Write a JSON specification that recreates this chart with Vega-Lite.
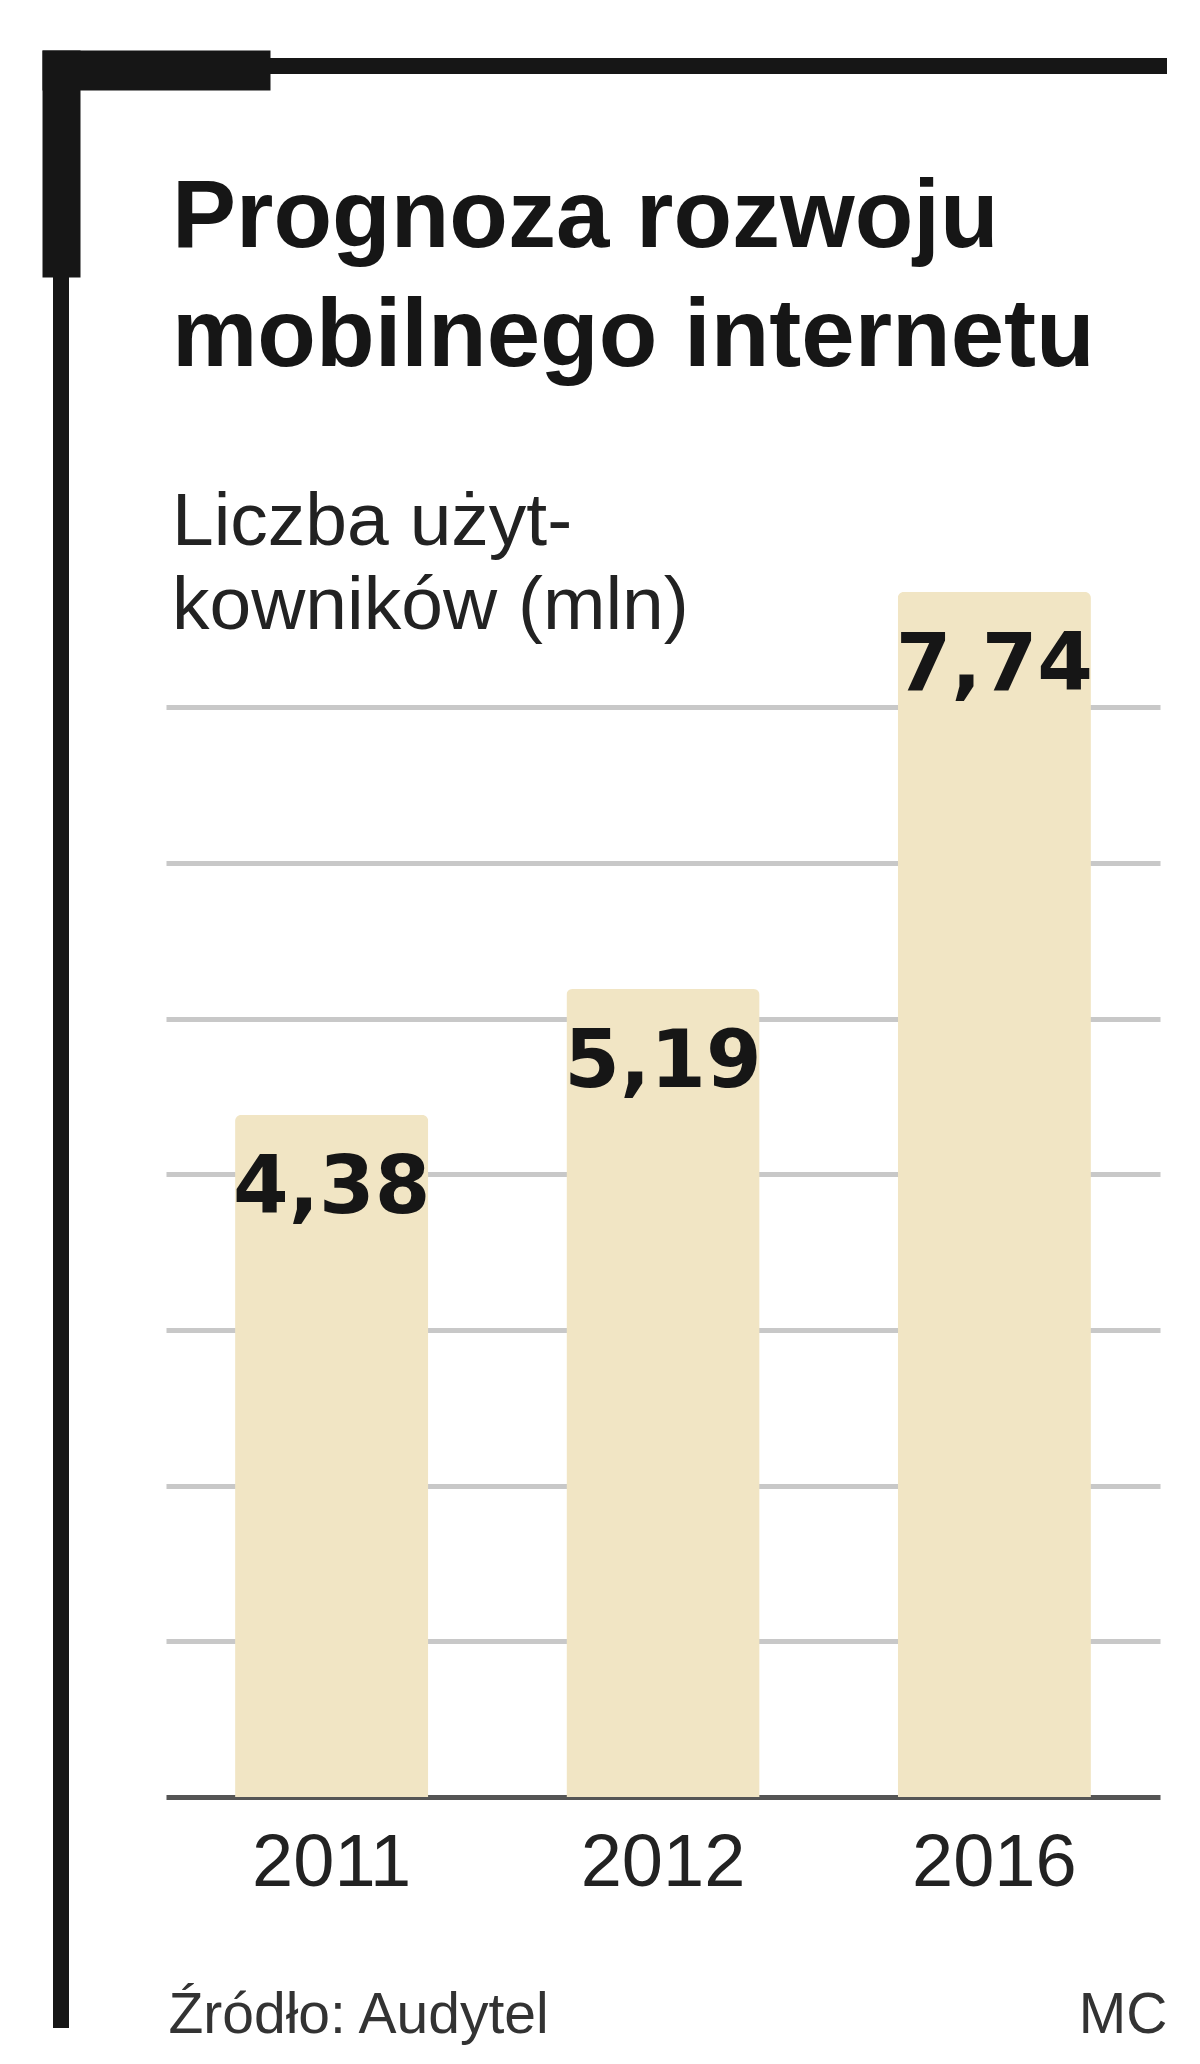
{
  "$schema": "https://vega.github.io/schema/vega-lite/v6.json",
  "width": 1106,
  "height": 1962,
  "autosize": {"type": "none"},
  "padding": {"left": 61, "top": 66, "right": 33, "bottom": 36},
  "background": "white",
  "title": {
    "text": ["Prognoza rozwoju", "mobilnego internetu"],
    "subtitle": ["Liczba użyt-", "kowników (mln)"],
    "anchor": "start",
    "frame": "group",
    "orient": "top",
    "offset": -590,
    "dx": 111,
    "font": "Liberation Sans",
    "fontSize": 96,
    "fontWeight": "bold",
    "color": "#161616",
    "lineHeight": 119,
    "subtitleFont": "Liberation Sans",
    "subtitleFontSize": 75,
    "subtitleColor": "#222222",
    "subtitleLineHeight": 84,
    "subtitlePadding": 100
  },
  "data": {
    "values": [
      {"year": "2011", "value": 4.38},
      {"year": "2012", "value": 5.19},
      {"year": "2016", "value": 7.74}
    ]
  },
  "view": {"stroke": "#161616", "strokeWidth": 16, "strokeDash": [1106, 3068, 1962], "fill": null},
  "layer": [
    {
      "layer": [
        {
          "mark": {"type": "bar", "color": "#F1E5C4", "cornerRadiusTopLeft": 6, "cornerRadiusTopRight": 6},
          "encoding": {
            "x": {
              "field": "year",
              "type": "nominal",
              "sort": null,
              "scale": {"range": [105, 1099], "paddingInner": 0.417, "paddingOuter": 0.2085},
              "axis": {
                "orient": "bottom",
                "offset": -231,
                "labelAngle": 0,
                "labelFont": "Liberation Sans",
                "labelFontSize": 74,
                "labelColor": "#222222",
                "labelPadding": 30,
                "ticks": false,
                "tickSize": 0,
                "domainColor": "#555555",
                "domainWidth": 5,
                "domainCap": "butt",
                "grid": false,
                "title": "Źródło: Audytel",
                "titleFont": "Liberation Sans",
                "titleFontSize": 57,
                "titleFontWeight": "normal",
                "titleColor": "#333333",
                "titleAnchor": "start",
                "titleAlign": "left",
                "titleBaseline": "alphabetic",
                "titleX": 107,
                "titleY": 235
              }
            },
            "y": {
              "field": "value",
              "type": "quantitative",
              "scale": {"domain": [0, 7.74], "range": [1731, 526], "nice": false, "zero": true},
              "axis": {
                "orient": "left",
                "values": [1, 2, 3, 4, 5, 6, 7],
                "grid": true,
                "gridColor": "#c8c8c8",
                "gridWidth": 5,
                "gridCap": "butt",
                "domain": false,
                "labels": false,
                "ticks": false,
                "title": "MC",
                "titleAngle": 0,
                "titleAlign": "right",
                "titleBaseline": "alphabetic",
                "titleX": 1106,
                "titleY": 1966,
                "titleFont": "Liberation Sans",
                "titleFontSize": 57,
                "titleFontWeight": "normal",
                "titleColor": "#333333"
              }
            }
          }
        },
        {
          "mark": {
            "type": "text",
            "baseline": "alphabetic",
            "align": "center",
            "dy": 98,
            "font": "DejaVu Sans",
            "fontSize": 80,
            "fontWeight": "bold",
            "color": "#161616"
          },
          "encoding": {
            "x": {"field": "year", "type": "nominal", "sort": null},
            "y": {"field": "value", "type": "quantitative"},
            "text": {"field": "value", "type": "quantitative", "format": ".2f"}
          }
        }
      ]
    },
    {
      "mark": {"type": "point", "opacity": 0},
      "encoding": {
        "x": {
          "field": "year",
          "type": "nominal",
          "scale": {"range": [-19, 209]},
          "axis": {"orient": "top", "offset": -4, "domainColor": "#161616", "domainWidth": 40, "domainCap": "butt", "labels": false, "ticks": false, "grid": false, "title": null}
        },
        "y": {
          "field": "value",
          "type": "quantitative",
          "scale": {"range": [211, -16]},
          "axis": {"orient": "right", "offset": -1106, "domainColor": "#161616", "domainWidth": 38, "domainCap": "butt", "labels": false, "ticks": false, "grid": false, "title": null}
        }
      }
    }
  ],
  "resolve": {
    "scale": {"x": "independent", "y": "independent"},
    "axis": {"x": "independent", "y": "independent"}
  },
  "config": {
    "locale": {
      "number": {"decimal": ",", "thousands": " ", "grouping": [3], "currency": ["", ""]}
    }
  }
}
